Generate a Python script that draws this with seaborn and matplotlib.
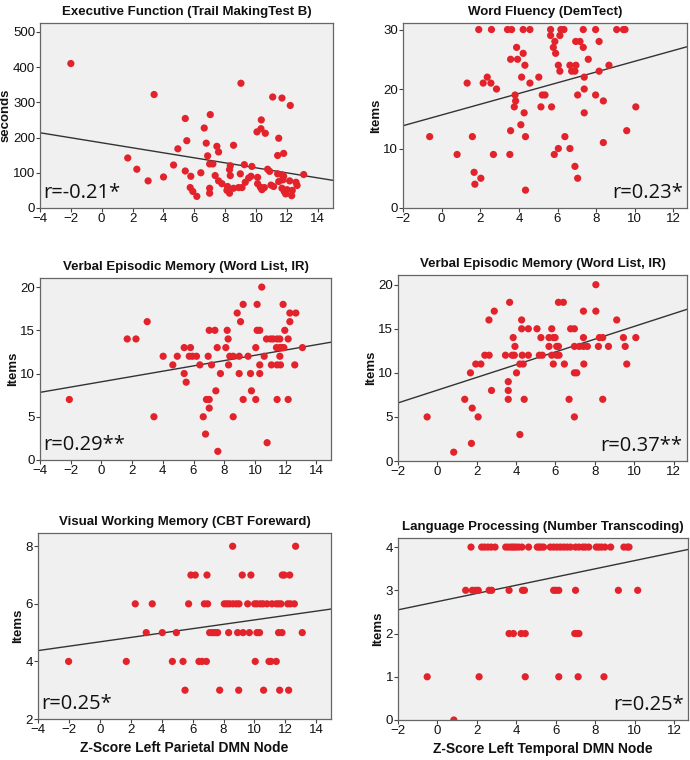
import numpy as np
import pandas as pd
import matplotlib
matplotlib.use("Agg")
import matplotlib.pyplot as plt
import seaborn as sns

sns.set_theme(style="white")
plt.rcParams['font.family'] = ['Liberation Sans', 'DejaVu Sans']

# ---------------- data ----------------
tmt_x = [-2.0, 3.40, 1.69, 2.28, 3.01, 4.01, 4.66, 4.94, 5.42, 5.52, 5.42, 5.78, 5.74, 5.91, 6.17,
         6.43, 6.65, 6.78, 6.87, 7.04, 7.0, 7.21, 7.0, 7.0, 7.47, 7.58, 7.36, 7.58, 7.80, 8.55,
         8.34, 8.29, 8.34, 8.16, 8.12, 8.29, 8.55, 8.88, 9.03, 8.99, 9.25, 9.10, 9.31, 9.74, 9.68,
         9.53, 10.07, 10.35, 10.33, 10.61, 10.11, 10.11, 10.29, 10.39, 10.55, 10.76, 10.89, 10.98,
         11.15, 11.09, 11.69, 12.23, 11.48, 11.41, 11.80, 11.41, 11.48, 11.69, 11.80, 11.75, 11.69,
         11.84, 11.93, 12.02, 12.19, 12.36, 12.32, 12.60, 12.67, 13.1]
tmt_y = [410, 322, 142, 110, 77, 88, 122, 168, 254, 191, 105, 90, 58, 47, 33,
         100, 227, 184, 148, 265, 125, 125, 56, 42, 175, 159, 92, 77, 69, 178,
         120, 109, 92, 61, 50, 42, 56, 58, 354, 97, 123, 58, 73, 118, 90,
         85, 216, 250, 225, 212, 87, 69, 59, 52, 58, 110, 104, 65,
         61, 315, 312, 291, 198, 149, 155, 97, 75, 94, 90, 80, 56,
         47, 40, 52, 77, 50, 35, 73, 64, 95]

wf_x = [-0.62, 0.80, 1.32, 1.59, 1.68, 1.72, 1.92, 2.03, 2.15, 2.36, 2.55, 2.58, 2.68, 2.84,
        3.41, 3.62, 3.57, 3.57, 3.53, 3.80, 3.83, 3.76, 3.88, 3.93, 4.14, 4.22, 4.22, 4.27, 4.10,
        4.31, 4.34, 4.34, 4.57, 4.57, 5.03, 5.14, 5.21, 5.35, 5.64, 5.64, 5.69, 5.78, 5.86, 5.90,
        5.83, 6.04, 6.12, 6.12, 6.17, 6.33, 6.04, 6.38, 6.64, 6.64, 6.73, 6.90, 6.95, 6.94, 7.16,
        7.04, 6.90, 7.04, 7.33, 7.33, 7.38, 7.38, 7.38, 7.59, 7.97, 7.97, 8.15, 8.15, 8.37, 8.37,
        8.66, 9.06, 9.41, 9.49, 9.58, 10.05]
wf_y = [12, 9, 21, 12, 6, 4, 30, 5, 21, 22, 21, 30, 9, 20,
        30, 30, 25, 13, 9, 19, 18, 17, 27, 25, 22, 26, 30, 16, 14,
        24, 12, 3, 30, 21, 22, 17, 19, 19, 30, 29, 17, 27, 28, 26,
        9, 24, 23, 29, 30, 30, 10, 12, 10, 24, 23, 23, 24, 28, 28,
        19, 7, 5, 30, 27, 22, 20, 16, 25, 30, 19, 23, 28, 18, 11,
        24, 30, 30, 30, 13, 17]

wlp_x = [-2.09, 1.68, 2.25, 2.98, 3.42, 4.02, 4.65, 4.94, 5.39, 5.39, 5.52, 5.80, 5.72, 5.93,
         6.19, 6.41, 6.63, 6.78, 6.84, 7.02, 6.95, 7.02, 7.02, 7.17, 7.39, 7.45, 7.54, 7.58,
         7.75, 8.10, 8.19, 8.25, 8.28, 8.36, 8.58, 8.58, 8.84, 8.97, 8.97, 9.06, 9.23, 9.23,
         9.55, 9.71, 9.77, 10.05, 10.05, 10.14, 10.14, 10.31, 10.31, 10.31, 10.44, 10.60, 10.79,
         10.75, 11.01, 11.07, 11.18, 11.40, 11.44, 11.44, 11.44, 11.62, 11.62, 11.62, 11.66,
         11.75, 11.83, 11.88, 11.94, 12.16, 12.16, 12.27, 12.27, 12.59, 12.66, 13.09]
wlp_y = [7, 14, 14, 16, 5, 12, 11, 12, 13, 10, 9, 13, 12, 12,
         12, 11, 5, 3, 7, 7, 12, 15, 6, 11, 15, 8, 13, 1,
         10, 13, 15, 14, 11, 12, 12, 5, 17, 12, 10, 16, 18, 7,
         12, 10, 8, 13, 7, 18, 15, 15, 11, 10, 20, 12, 2,
         14, 14, 11, 14, 13, 14, 11, 7, 14, 13, 12, 11,
         13, 18, 13, 15, 14, 7, 16, 17, 11, 17, 13]

wlt_x = [-0.52, 0.83, 1.39, 1.68, 1.73, 1.77, 1.95, 2.07, 2.21, 2.41, 2.62, 2.63, 2.75, 2.89,
         3.46, 3.67, 3.60, 3.60, 3.60, 3.85, 3.80, 3.91, 3.94, 4.02, 4.19, 4.28, 4.28, 4.31,
         4.19, 4.36, 4.41, 4.62, 4.62, 5.06, 5.26, 5.18, 5.33, 5.67, 5.67, 5.81, 5.89, 5.81,
         5.89, 5.98, 6.06, 6.06, 6.15, 6.18, 6.15, 6.40, 6.45, 6.69, 6.77, 6.96, 6.96, 6.96,
         7.08, 6.96, 7.21, 7.42, 7.42, 7.42, 7.44, 7.62, 8.05, 8.05, 8.18, 8.23, 8.40, 8.40,
         8.69, 9.11, 9.45, 9.54, 9.62, 10.08]
wlt_y = [5, 1, 7, 10, 2, 6, 11, 5, 11, 12, 16, 12, 8, 17,
         12, 18, 9, 8, 7, 14, 12, 12, 13, 10, 11, 16, 15, 12,
         3, 11, 7, 15, 12, 15, 14, 12, 12, 14, 13, 15, 14, 12,
         11, 14, 13, 12, 13, 12, 18, 18, 11, 7, 15, 15, 13, 10,
         10, 5, 13, 13, 17, 14, 11, 13, 20, 17, 13, 14, 14, 7,
         13, 16, 14, 13, 11, 14]

cbt_x = [-2.02, 1.71, 2.29, 3.0, 3.39, 4.04, 4.69, 4.95, 5.38, 5.51, 5.74, 5.89, 6.17, 6.41,
         6.61, 6.89, 6.76, 6.97, 6.93, 7.10, 7.27, 7.40, 7.53, 7.62, 7.75, 8.05, 8.22, 8.39,
         8.33, 8.59, 8.61, 8.83, 9.0, 8.91, 8.98, 9.21, 9.26, 9.56, 9.67, 9.77, 10.01, 10.16,
         10.05, 10.16, 10.33, 10.38, 10.55, 10.59, 10.81, 10.94, 11.07, 11.13, 11.41, 11.41,
         11.56, 11.71, 11.56, 11.78, 11.63, 11.80, 11.93, 12.15, 12.28, 12.21, 12.32, 12.58,
         12.66, 13.09]
cbt_y = [4, 4, 6, 5, 6, 5, 4, 5, 4, 3, 6, 7, 7, 4,
         4, 4, 6, 6, 7, 5, 5, 5, 5, 5, 3, 6, 6, 6,
         5, 8, 6, 6, 6, 5, 3, 7, 5, 6, 5, 7, 6, 6,
         4, 5, 5, 6, 6, 3, 6, 4, 4, 6, 4, 6,
         6, 6, 5, 5, 3, 7, 7, 6, 7, 3, 6, 6,
         8, 5]

nt_x = [1.70, 2.24, 2.38, 2.55, 2.72, 2.92, 3.46, 3.60, 3.74, 3.85, 3.97, 4.11, 4.28, 4.62,
        5.06, 5.16, 5.26, 5.38, 5.72, 5.89, 6.06, 6.23, 6.40, 6.57, 6.74, 7.0, 7.17, 7.37,
        7.50, 7.67, 8.05, 8.18, 8.32, 8.49, 8.78, 9.45, 9.62, 9.71,
        1.43, 1.77, 1.94, 2.07, 2.62, 2.75, 3.63, 4.31, 4.41, 5.89, 6.01, 6.15, 7.0, 9.17, 10.15,
        3.63, 3.85, 4.24, 4.45, 6.96, 7.08, 7.17,
        -0.52, 2.11, 4.45, 6.15, 7.13, 8.44,
        0.83]
nt_y = [4] * 38 + [3] * 15 + [2] * 7 + [1] * 6 + [0]

titles = ["Executive Function (Trail MakingTest B)", "Word Fluency (DemTect)",
          "Verbal Episodic Memory (Word List, IR)", "Verbal Episodic Memory (Word List, IR)",
          "Visual Working Memory (CBT Foreward)", "Language Processing (Number Transcoding)"]
ylabels = ["seconds", "Items", "Items", "Items", "Items", "Items"]
r_labels = ["r=-0.21*", "r=0.23*", "r=0.29**", "r=0.37**", "r=0.25*", "r=0.25*"]
xlabels = ["", "", "", "", "Z-Score Left Parietal DMN Node", "Z-Score Left Temporal DMN Node"]

xticks_left = [-4, -2, 0, 2, 4, 6, 8, 10, 12, 14]
xticks_right = [-2, 0, 2, 4, 6, 8, 10, 12]
yticks_list = [[0, 100, 200, 300, 400, 500], [0, 10, 20, 30], [0, 5, 10, 15, 20],
               [0, 5, 10, 15, 20], [2, 4, 6, 8], [0, 1, 2, 3, 4]]
xlims = [(-4, 15), (-2, 12.7), (-4, 14.95), (-2, 12.68), (-4, 14.95), (-2, 12.7)]
ylims = [(0, 525), (0, 31.1), (0, 21.05), (0, 21.1), (2, 8.46), (0, 4.21)]

datasets = [(tmt_x, tmt_y), (wf_x, wf_y), (wlp_x, wlp_y), (wlt_x, wlt_y),
            (cbt_x, cbt_y), (nt_x, nt_y)]

# --------------- layout (pixels: left, right, top, bottom) ---------------
W, H = 690, 760
boxes = [(40, 333, 23, 208), (403, 687, 23, 208),
         (40, 331, 278, 460), (398, 687, 275, 461),
         (38, 331, 533, 719), (398, 688, 538, 720)]
r_pos = ["left", "right", "left", "right", "left", "right"]

fig = plt.figure(figsize=(W / 100, H / 100), dpi=100)
fig.patch.set_facecolor("white")

dot_color = "#e3232b"

for i, ((xs, ys), (l, r, t, b)) in enumerate(zip(datasets, boxes)):
    ax = fig.add_axes([l / W, 1 - b / H, (r - l) / W, (b - t) / H])
    ax.set_facecolor("#f0f0f0")
    ax.set_xlim(*xlims[i])
    ax.set_ylim(*ylims[i])
    df = pd.DataFrame({"x": xs, "y": ys})
    sns.regplot(data=df, x="x", y="y", ax=ax, ci=None, truncate=False,
                scatter_kws=dict(s=27, color=dot_color, edgecolor="none", alpha=1, zorder=3),
                line_kws=dict(color="#333333", lw=1.0, zorder=2))
    ax.set_xlim(*xlims[i])
    ax.set_ylim(*ylims[i])
    ax.set_xticks(xticks_left if i % 2 == 0 else xticks_right)
    ax.set_yticks(yticks_list[i])
    ax.tick_params(axis="both", which="both", direction="out", length=3, width=0.8,
                   color="#444444", labelsize=9.5, pad=0.5, labelcolor="#111111",
                   bottom=True, left=True)
    for s in ax.spines.values():
        s.set_color("#666666")
        s.set_linewidth(0.9)
    ax.set_title(titles[i], fontsize=9.5, fontweight="bold", pad=6, color="#111111")
    ax.set_ylabel(ylabels[i], fontsize=9.5, fontweight="bold", labelpad=1, color="#111111")
    ax.set_xlabel(xlabels[i], fontsize=10, fontweight="bold", labelpad=4, color="#111111")
    if r_pos[i] == "left":
        ax.text(0.012, 0.025, r_labels[i], transform=ax.transAxes, ha="left", va="bottom",
                fontsize=14.5, family=["Open Sans", "DejaVu Sans"], color="#111111")
    else:
        ax.text(0.985, 0.025, r_labels[i], transform=ax.transAxes, ha="right", va="bottom",
                fontsize=14.5, family=["Open Sans", "DejaVu Sans"], color="#111111")

fig.savefig("out.png", dpi=100)
